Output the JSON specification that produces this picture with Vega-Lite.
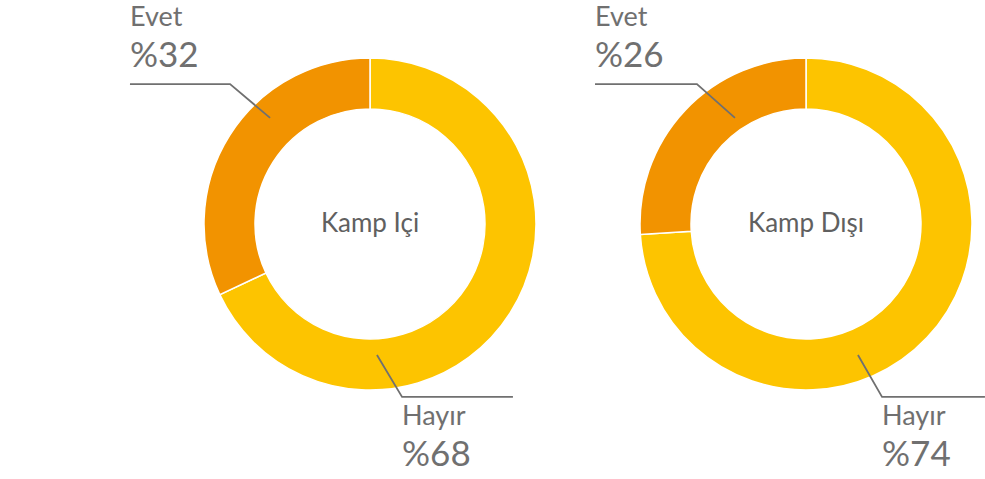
{
  "$schema": "https://vega.github.io/schema/vega-lite/v6.json",
  "padding": 0,
  "spacing": 0,
  "bounds": "flush",
  "background": "white",
  "config": {"view": {"stroke": null}, "font": "Lato"},
  "datasets": {
    "dilimler": [
      {"yer": "Kamp Içi", "cevap": "Hayır", "oran": 68, "u": 0.193, "v": 1.211},
      {"yer": "Kamp Içi", "cevap": "Evet", "oran": 32, "u": -1.446, "v": -1.193},
      {"yer": "Kamp Dışı", "cevap": "Hayır", "oran": 74, "u": 0.458, "v": 1.211},
      {"yer": "Kamp Dışı", "cevap": "Evet", "oran": 26, "u": -1.271, "v": -1.193}
    ],
    "kilavuz": [
      {"yer": "Kamp Içi", "cevap": "Evet", "sira": 1, "u": -1.446, "v": -0.843},
      {"yer": "Kamp Içi", "cevap": "Evet", "sira": 2, "u": -0.843, "v": -0.843},
      {"yer": "Kamp Içi", "cevap": "Evet", "sira": 3, "u": -0.602, "v": -0.639},
      {"yer": "Kamp Içi", "cevap": "Hayır", "sira": 1, "u": 0.042, "v": 0.789},
      {"yer": "Kamp Içi", "cevap": "Hayır", "sira": 2, "u": 0.193, "v": 1.042},
      {"yer": "Kamp Içi", "cevap": "Hayır", "sira": 3, "u": 0.861, "v": 1.042},
      {"yer": "Kamp Dışı", "cevap": "Evet", "sira": 1, "u": -1.271, "v": -0.843},
      {"yer": "Kamp Dışı", "cevap": "Evet", "sira": 2, "u": -0.657, "v": -0.843},
      {"yer": "Kamp Dışı", "cevap": "Evet", "sira": 3, "u": -0.428, "v": -0.639},
      {"yer": "Kamp Dışı", "cevap": "Hayır", "sira": 1, "u": 0.313, "v": 0.789},
      {"yer": "Kamp Dışı", "cevap": "Hayır", "sira": 2, "u": 0.458, "v": 1.042},
      {"yer": "Kamp Dışı", "cevap": "Hayır", "sira": 3, "u": 1.078, "v": 1.042}
    ]
  },
  "hconcat": [
    {
      "width": 740,
      "height": 448,
      "layer": [
        {
          "data": {"name": "dilimler"},
          "transform": [{"filter": "datum.yer === 'Kamp Içi'"}],
          "mark": {"type": "arc", "outerRadius": 166, "innerRadius": 115, "stroke": "white", "strokeWidth": 1.5},
          "encoding": {
            "theta": {"field": "oran", "type": "quantitative", "stack": true},
            "color": {"field": "cevap", "type": "nominal", "scale": {"domain": ["Hayır", "Evet"], "range": ["#FDC400", "#F29300"]}, "legend": null},
            "order": {"field": "oran", "type": "quantitative", "sort": "descending"}
          }
        },
        {
          "data": {"name": "kilavuz"},
          "transform": [{"filter": "datum.yer === 'Kamp Içi'"}],
          "mark": {"type": "line", "color": "#707070", "strokeWidth": 1.8},
          "encoding": {
            "x": {"field": "u", "type": "quantitative", "scale": {"domain": [-2.2289, 2.2289], "nice": false, "zero": false}, "axis": null},
            "y": {"field": "v", "type": "quantitative", "scale": {"domain": [-1.3494, 1.3494], "nice": false, "zero": false, "reverse": true}, "axis": null},
            "detail": {"field": "cevap"},
            "order": {"field": "sira", "type": "quantitative"}
          }
        },
        {
          "data": {"name": "dilimler"},
          "transform": [{"filter": "datum.yer === 'Kamp Içi'"}],
          "mark": {"type": "text", "align": "left", "baseline": "alphabetic", "fontSize": 27, "color": "#707070"},
          "encoding": {
            "x": {"field": "u", "type": "quantitative"},
            "y": {"field": "v", "type": "quantitative"},
            "text": {"field": "cevap"}
          }
        },
        {
          "data": {"name": "dilimler"},
          "transform": [{"filter": "datum.yer === 'Kamp Içi'"}],
          "mark": {"type": "text", "align": "left", "baseline": "alphabetic", "fontSize": 35, "color": "#707070", "dy": 41, "text": {"expr": "'%' + datum.oran"}},
          "encoding": {
            "x": {"field": "u", "type": "quantitative"},
            "y": {"field": "v", "type": "quantitative"}
          }
        },
        {
          "data": {"name": "dilimler"},
          "transform": [{"filter": "datum.yer === 'Kamp Içi' && datum.cevap === 'Evet'"}],
          "mark": {"type": "text", "align": "center", "baseline": "middle", "fontSize": 26, "color": "#606060"},
          "encoding": {"text": {"field": "yer"}}
        }
      ]
    },
    {
      "width": 132,
      "height": 448,
      "layer": [
        {
          "data": {"name": "dilimler"},
          "transform": [{"filter": "datum.yer === 'Kamp Dışı'"}],
          "mark": {"type": "arc", "outerRadius": 166, "innerRadius": 115, "stroke": "white", "strokeWidth": 1.5},
          "encoding": {
            "theta": {"field": "oran", "type": "quantitative", "stack": true},
            "color": {"field": "cevap", "type": "nominal", "scale": {"domain": ["Hayır", "Evet"], "range": ["#FDC400", "#F29300"]}, "legend": null},
            "order": {"field": "oran", "type": "quantitative", "sort": "descending"}
          }
        },
        {
          "data": {"name": "kilavuz"},
          "transform": [{"filter": "datum.yer === 'Kamp Dışı'"}],
          "mark": {"type": "line", "color": "#707070", "strokeWidth": 1.8},
          "encoding": {
            "x": {"field": "u", "type": "quantitative", "scale": {"domain": [-0.3976, 0.3976], "nice": false, "zero": false}, "axis": null},
            "y": {"field": "v", "type": "quantitative", "scale": {"domain": [-1.3494, 1.3494], "nice": false, "zero": false, "reverse": true}, "axis": null},
            "detail": {"field": "cevap"},
            "order": {"field": "sira", "type": "quantitative"}
          }
        },
        {
          "data": {"name": "dilimler"},
          "transform": [{"filter": "datum.yer === 'Kamp Dışı'"}],
          "mark": {"type": "text", "align": "left", "baseline": "alphabetic", "fontSize": 27, "color": "#707070"},
          "encoding": {
            "x": {"field": "u", "type": "quantitative"},
            "y": {"field": "v", "type": "quantitative"},
            "text": {"field": "cevap"}
          }
        },
        {
          "data": {"name": "dilimler"},
          "transform": [{"filter": "datum.yer === 'Kamp Dışı'"}],
          "mark": {"type": "text", "align": "left", "baseline": "alphabetic", "fontSize": 35, "color": "#707070", "dy": 41, "text": {"expr": "'%' + datum.oran"}},
          "encoding": {
            "x": {"field": "u", "type": "quantitative"},
            "y": {"field": "v", "type": "quantitative"}
          }
        },
        {
          "data": {"name": "dilimler"},
          "transform": [{"filter": "datum.yer === 'Kamp Dışı' && datum.cevap === 'Evet'"}],
          "mark": {"type": "text", "align": "center", "baseline": "middle", "fontSize": 26, "color": "#606060"},
          "encoding": {"text": {"field": "yer"}}
        }
      ]
    }
  ]
}
